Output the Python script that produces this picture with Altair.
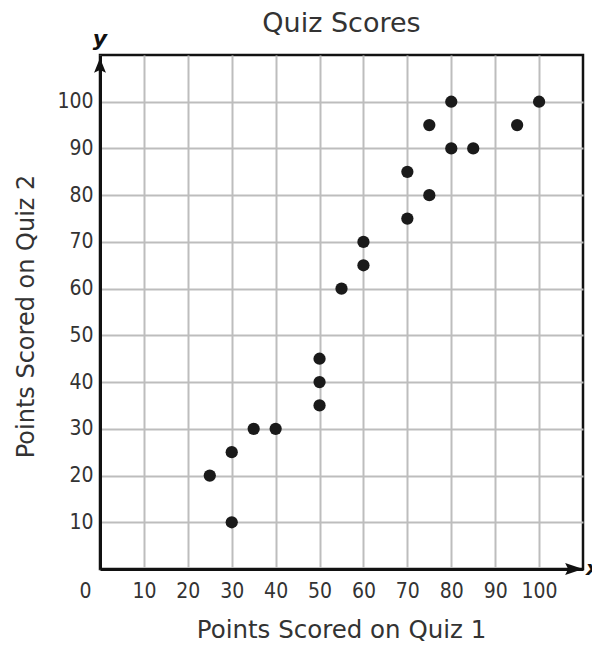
import altair as alt
import pandas as pd

# Data
quiz1 = [25, 30, 30, 35, 40, 50, 50, 50, 55, 60, 60, 70, 70, 75, 75, 80, 80, 85, 95, 100]
quiz2 = [20, 25, 10, 30, 30, 45, 40, 35, 60, 70, 65, 85, 75, 95, 80, 100, 90, 90, 95, 100]
x_ticks = [0, 10, 20, 30, 40, 50, 60, 70, 80, 90, 100]
y_ticks = [10, 20, 30, 40, 50, 60, 70, 80, 90, 100]
axis_max = 110
chart_title = ["Quiz Scores"]

FONT = "DejaVu Sans Condensed"
TFONT = "DejaVu Sans"
TXT = "#333333"

df = pd.DataFrame({"q1": quiz1, "q2": quiz2})

xscale = alt.Scale(domain=[0, axis_max], nice=False, zero=True)
yscale = alt.Scale(domain=[0, axis_max], nice=False, zero=True)

x_axis = alt.Axis(
    values=x_ticks, grid=True, gridColor="#bdbdbd", gridWidth=2,
    domain=True, domainColor="#111111", domainWidth=3,
    ticks=False, tickSize=0, labelFlush=False,
    labelFont=FONT, labelFontSize=21, labelColor=TXT, labelPadding=11,
    labelOffset={"condition": {"test": "datum.value == 0", "value": -15}, "value": 0},
    title="Points Scored on Quiz 1", titleFont=TFONT, titleFontSize=24.5,
    titleFontWeight="normal", titleColor=TXT,
    titleX=241, titleY=68, titleBaseline="alphabetic", titleAnchor="middle",
)
y_axis = alt.Axis(
    values=y_ticks, grid=True, gridColor="#bdbdbd", gridWidth=2,
    domain=True, domainColor="#111111", domainWidth=3,
    ticks=False, tickSize=0, labelFlush=False,
    labelFont=FONT, labelFontSize=21, labelColor=TXT, labelPadding=7,
    labelBaseline="middle",
    title="Points Scored on Quiz 2", titleFont=TFONT, titleFontSize=24,
    titleFontWeight="normal", titleColor=TXT,
    titleX=-67, titleY=261, titleAngle=-90, titleBaseline="alphabetic",
    titleAlign="center",
)

points = alt.Chart(df).mark_circle(size=150, color="#1a1a1a", opacity=1).encode(
    x=alt.X("q1:Q", scale=xscale, axis=x_axis),
    y=alt.Y("q2:Q", scale=yscale, axis=y_axis),
)

# Axis arrowheads, axis letters and chart title (decoration in data units)
arrows = pd.DataFrame({"ax": ["y", "x"], "px": [0, axis_max], "py": [axis_max, 0]})
y_arrow = alt.Chart(arrows[arrows.ax == "y"]).mark_point(
    shape="M0,0.35L-0.7,2.1L0,1.75L0.7,2.1Z", size=289, filled=True,
    color="#111111", opacity=1,
).encode(x=alt.X("px:Q", scale=xscale), y=alt.Y("py:Q", scale=yscale))
x_arrow = alt.Chart(arrows[arrows.ax == "x"]).mark_point(
    shape="M0,0L-2.1,-0.7L-1.75,0L-2.1,0.7Z", size=289, filled=True,
    color="#111111", opacity=1,
).encode(x=alt.X("px:Q", scale=xscale), y=alt.Y("py:Q", scale=yscale))

y_letter = alt.Chart(arrows[arrows.ax == "y"]).mark_text(
    text="y", font=TFONT, fontSize=22, fontStyle="italic", fontWeight="bold",
    color="#111111", dy=-16,
).encode(x=alt.X("px:Q", scale=xscale), y=alt.Y("py:Q", scale=yscale))
x_letter = alt.Chart(arrows[arrows.ax == "x"]).mark_text(
    text="x", font=TFONT, fontSize=20, fontStyle="italic", fontWeight="bold",
    color="#111111", dx=3, dy=0, align="left", baseline="middle",
).encode(x=alt.X("px:Q", scale=xscale), y=alt.Y("py:Q", scale=yscale))

title_df = pd.DataFrame({"t": chart_title, "tx": [axis_max / 2], "ty": [axis_max]})
title_mark = alt.Chart(title_df).mark_text(
    font=TFONT, fontSize=27, color=TXT, align="center", baseline="alphabetic", dy=-23,
).encode(x=alt.X("tx:Q", scale=xscale), y=alt.Y("ty:Q", scale=yscale), text="t:N")

chart = alt.layer(points, y_arrow, x_arrow, y_letter, x_letter, title_mark).properties(
    width=483, height=514,
    background="white",
    autosize=alt.AutoSizeParams(type="none"),
    padding={"left": 92, "top": 47, "right": 9, "bottom": 75},
).configure_view(stroke="#111111", strokeWidth=2.5)

chart.save("out.html", embed_options={"renderer": "svg", "actions": False})
